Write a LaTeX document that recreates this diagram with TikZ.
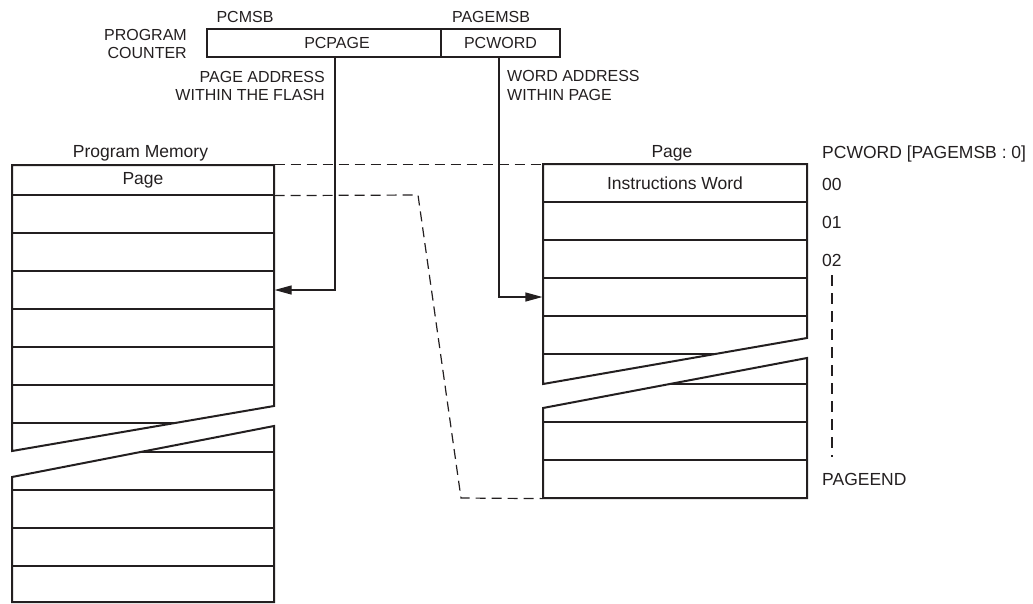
\documentclass[tikz,border=0pt]{standalone}
\usepackage{fontspec}
\setmainfont{Liberation Sans}
\usepackage{tikz}
\usetikzlibrary{arrows.meta}
\definecolor{ink}{HTML}{231F20}
\newcommand{\capsize}{\fontsize{16}{18.5}\selectfont}
\newcommand{\mixsize}{\fontsize{17.5}{20}\selectfont}

\begin{document}
\begin{tikzpicture}[x=1pt,y=-1pt,
      regbox/.style={rectangle,draw=ink,line width=2pt,
                     minimum height=28pt,inner sep=0pt,
                     font=\capsize,text=ink},
      cell/.style={rectangle,draw=ink,line width=1.2pt,
                   minimum height=38pt,inner sep=0pt,
                   font=\mixsize,text=ink},
      leftcell/.style={cell,minimum width=262pt},
      rightcell/.style={cell,minimum width=264pt},
      outline/.style={draw=ink,line width=2pt,line join=miter},
      arrow/.style={-{Triangle[length=17pt,width=9pt]},line width=1.2pt,ink},
      link/.style={ink,line width=1.2pt,dash pattern=on 10pt off 6pt},
      ticks/.style={ink,line width=1.2pt,dash pattern=on 11pt off 7pt},
      caps/.style={font=\capsize,text=ink,inner sep=0pt},
      mixed/.style={font=\mixsize,text=ink,inner sep=0pt}
    ]
    \useasboundingbox (0,0) rectangle (1033,603);

    % program counter
    \node[regbox,minimum width=234pt] (pcpage) at (324,43.3) {\hspace*{26pt}PCPAGE};
    \node[regbox,minimum width=119pt] (pcword) at (500.5,43.3) {PCWORD};
    \node[caps,anchor=base] (pcmsb) at (245,22) {PCMSB};
    \node[caps,anchor=base] (pagemsb) at (491,22) {PAGEMSB};
    \node[caps,anchor=east,align=right] (pclbl) at (187,44.2) {PROGRAM\\COUNTER};
    \node[caps,anchor=east,align=right] (pagelbl) at (325,85.8)
          {PAGE ADDRESS\\WITHIN THE FLASH};
    \node[caps,anchor=west,align=left] (wordlbl) at (507,85.5)
          {WORD ADDRESS\\WITHIN PAGE};

    % program memory
    \node[mixed,anchor=base] (pmtitle) at (140.5,157.5) {Program Memory};
    \begin{scope}
      \clip (12,165) -- (274,165) -- (274,406) -- (12,451) -- cycle;
      \node[leftcell,minimum height=30pt] (pm0) at (143,180) {Page};
      \foreach \y [count=\i] in {214,252,290,328,366,404,442}
        \node[leftcell] (pm\i) at (143,\y) {};
    \end{scope}
    \begin{scope}
      \clip (12,477) -- (274,426) -- (274,602) -- (12,602) -- cycle;
      \foreach \y [count=\i] in {433,471,509,547,585}
        \node[leftcell] (pmb\i) at (143,\y) {};
    \end{scope}
    \draw[outline] (12,165) -- (274,165) -- (274,406) -- (12,451) -- cycle;
    \draw[outline] (12,477) -- (274,426) -- (274,602) -- (12,602) -- cycle;

    % page
    \node[mixed,anchor=base] (pgtitle) at (672,157.5) {Page};
    \begin{scope}
      \clip (543,164) -- (807,164) -- (807,338) -- (543,384) -- cycle;
      \node[rightcell] (pg0) at (675,183) {Instructions Word};
      \foreach \y [count=\i] in {221,259,297,335,373}
        \node[rightcell] (pg\i) at (675,\y) {};
    \end{scope}
    \begin{scope}
      \clip (543,408) -- (807,358) -- (807,498) -- (543,498) -- cycle;
      \foreach \y [count=\i] in {365,403,441,479}
        \node[rightcell] (pgb\i) at (675,\y) {};
    \end{scope}
    \draw[outline] (543,164) -- (807,164) -- (807,338) -- (543,384) -- cycle;
    \draw[outline] (543,408) -- (807,358) -- (807,498) -- (543,498) -- cycle;

    % word index
    \node[mixed,anchor=base west] (idxlbl) at (822,158.5) {PCWORD [PAGEMSB : 0]};
    \node[mixed,anchor=base west] (w00) at (822,190.8) {00};
    \node[mixed,anchor=base west] (w01) at (822,228.5) {01};
    \node[mixed,anchor=base west] (w02) at (822,266.5) {02};
    \node[mixed,anchor=base west] (wend) at (822,485.8) {PAGEEND};

    % arrows
    \draw[arrow] ([xshift=11pt]pcpage.south) |- (pm3.east);
    \draw[arrow] ([xshift=-1.5pt]pcword.south) |- (pg3.west);
    \draw[link] (pm0.north east) -- (pm0.north east -| pg0.north west);
    \draw[link] (pm0.south east) -- (418,195) -- (461,498) -- (pgb4.south west);
    \draw[ticks] ([yshift=-8.5pt]w02.south) -- ([yshift=16pt]w02.south |- wend.north);

  \end{tikzpicture}
\end{document}
